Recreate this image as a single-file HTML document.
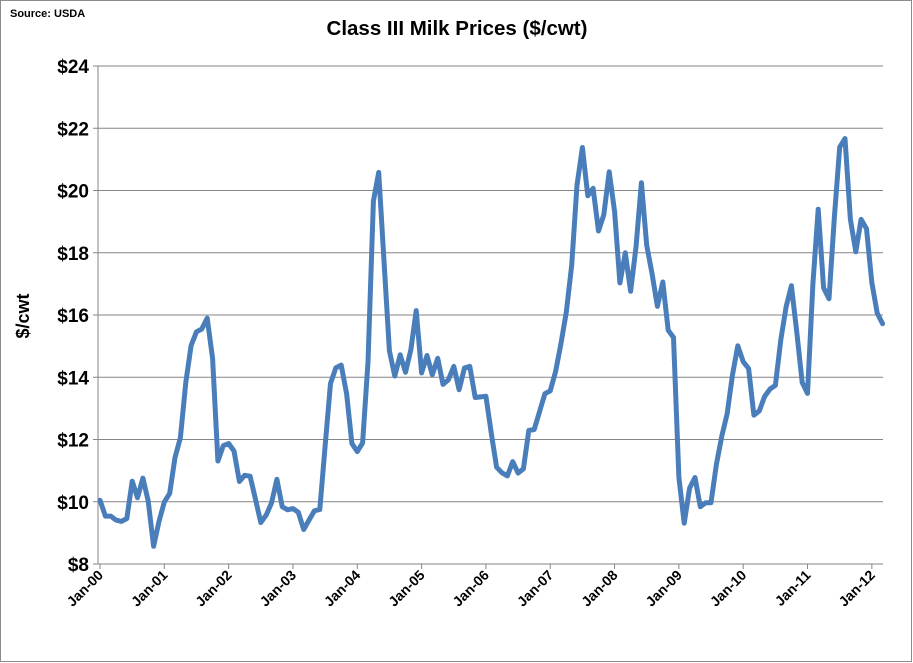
<!DOCTYPE html>
<html><head><meta charset="utf-8"><style>
html,body{margin:0;padding:0;background:#fff;}
svg{display:block;font-family:"Liberation Sans",sans-serif;}
</style></head><body>
<svg width="913" height="663" id="chart">
<rect x="0.5" y="0.5" width="911" height="661" fill="#fff" stroke="#8c8c8c"/>
<text x="10" y="17" font-size="11" font-weight="bold">Source: USDA</text>
<text x="457" y="35" font-size="20.5" font-weight="bold" text-anchor="middle">Class III Milk Prices ($/cwt)</text>
<text transform="translate(29,316) rotate(-90)" font-size="18" font-weight="bold" text-anchor="middle">$/cwt</text>
<g id="grid"></g><g id="axes"></g><g id="series"></g>
</svg>
<script>
const yTicks=[8,10,12,14,16,18,20,22,24];
const xLabels=["Jan-00","Jan-01","Jan-02","Jan-03","Jan-04","Jan-05","Jan-06","Jan-07","Jan-08","Jan-09","Jan-10","Jan-11","Jan-12"];
const prices=[10.05,9.54,9.54,9.41,9.37,9.46,10.66,10.13,10.76,10.02,8.57,9.37,
9.99,10.27,11.42,12.06,13.83,15.02,15.46,15.55,15.90,14.60,11.31,11.80,
11.87,11.63,10.65,10.85,10.82,10.09,9.33,9.57,9.96,10.72,9.84,9.74,
9.78,9.66,9.11,9.41,9.71,9.75,11.78,13.80,14.30,14.39,13.47,11.87,
11.61,11.89,14.49,19.66,20.58,17.68,14.85,14.04,14.72,14.16,14.89,16.14,
14.14,14.70,14.08,14.61,13.77,13.92,14.35,13.60,14.30,14.35,13.35,13.37,
13.39,12.20,11.11,10.93,10.83,11.29,10.92,11.06,12.29,12.32,12.89,13.47,
13.56,14.18,15.09,16.09,17.60,20.17,21.38,19.83,20.07,18.70,19.22,20.60,
19.32,17.03,18.00,16.76,18.18,20.25,18.24,17.32,16.28,17.06,15.51,15.28,
10.78,9.31,10.44,10.78,9.84,9.97,9.97,11.20,12.11,12.82,14.08,15.01,
14.50,14.28,12.78,12.92,13.38,13.62,13.74,15.18,16.26,16.94,15.44,13.83,
13.48,17.00,19.40,16.87,16.52,19.11,21.39,21.67,19.07,18.03,19.07,18.77,
17.05,16.06,15.72];
const L=98,R=883,T=66,B=564,X0=100,DX=5.36;
const y=v=>B-(v-8)/16*(B-T);
const x=i=>X0+i*DX;
const NS="http://www.w3.org/2000/svg";
function mk(tag,attrs,parent){const e=document.createElementNS(NS,tag);for(const k in attrs)e.setAttribute(k,attrs[k]);parent.appendChild(e);return e;}
const grid=document.getElementById('grid'),axes=document.getElementById('axes'),series=document.getElementById('series');
yTicks.forEach(v=>{
 if(v>8){const g=mk('line',{x1:L,x2:R,y1:y(v),y2:y(v),stroke:'#868686','stroke-width':1},grid);
 
 }
 const tk=mk('line',{x1:L-5,x2:L,y1:y(v),y2:y(v),stroke:'#868686'},axes);
 
 
 const t=mk('text',{x:L-9,y:y(v)+7,'font-size':19,'font-weight':'bold','text-anchor':'end'},axes);
 t.textContent='$'+v;
 
 
});
const ya=mk('line',{x1:L,x2:L,y1:T,y2:B,stroke:'#868686'},axes);


const xa=mk('line',{x1:L,x2:R,y1:B,y2:B,stroke:'#868686'},axes);


xLabels.forEach((lab,k)=>{
 const xi=x(k*12);
 const tk=mk('line',{x1:xi,x2:xi,y1:B,y2:B+5,stroke:'#868686'},axes);
 
 
 const t=mk('text',{transform:`translate(${xi+4},${B+12}) rotate(-45)`,'font-size':14,'font-weight':'bold','text-anchor':'end'},axes);
 t.textContent=lab;
 
 
});
const pts=prices.map((v,i)=>x(i).toFixed(1)+','+y(v).toFixed(1)).join(' ');
const pl=mk('polyline',{points:pts,fill:'none',stroke:'#4a7ebb','stroke-width':5,'stroke-linejoin':'round','stroke-linecap':'round'},series);


</script>
</body></html>
